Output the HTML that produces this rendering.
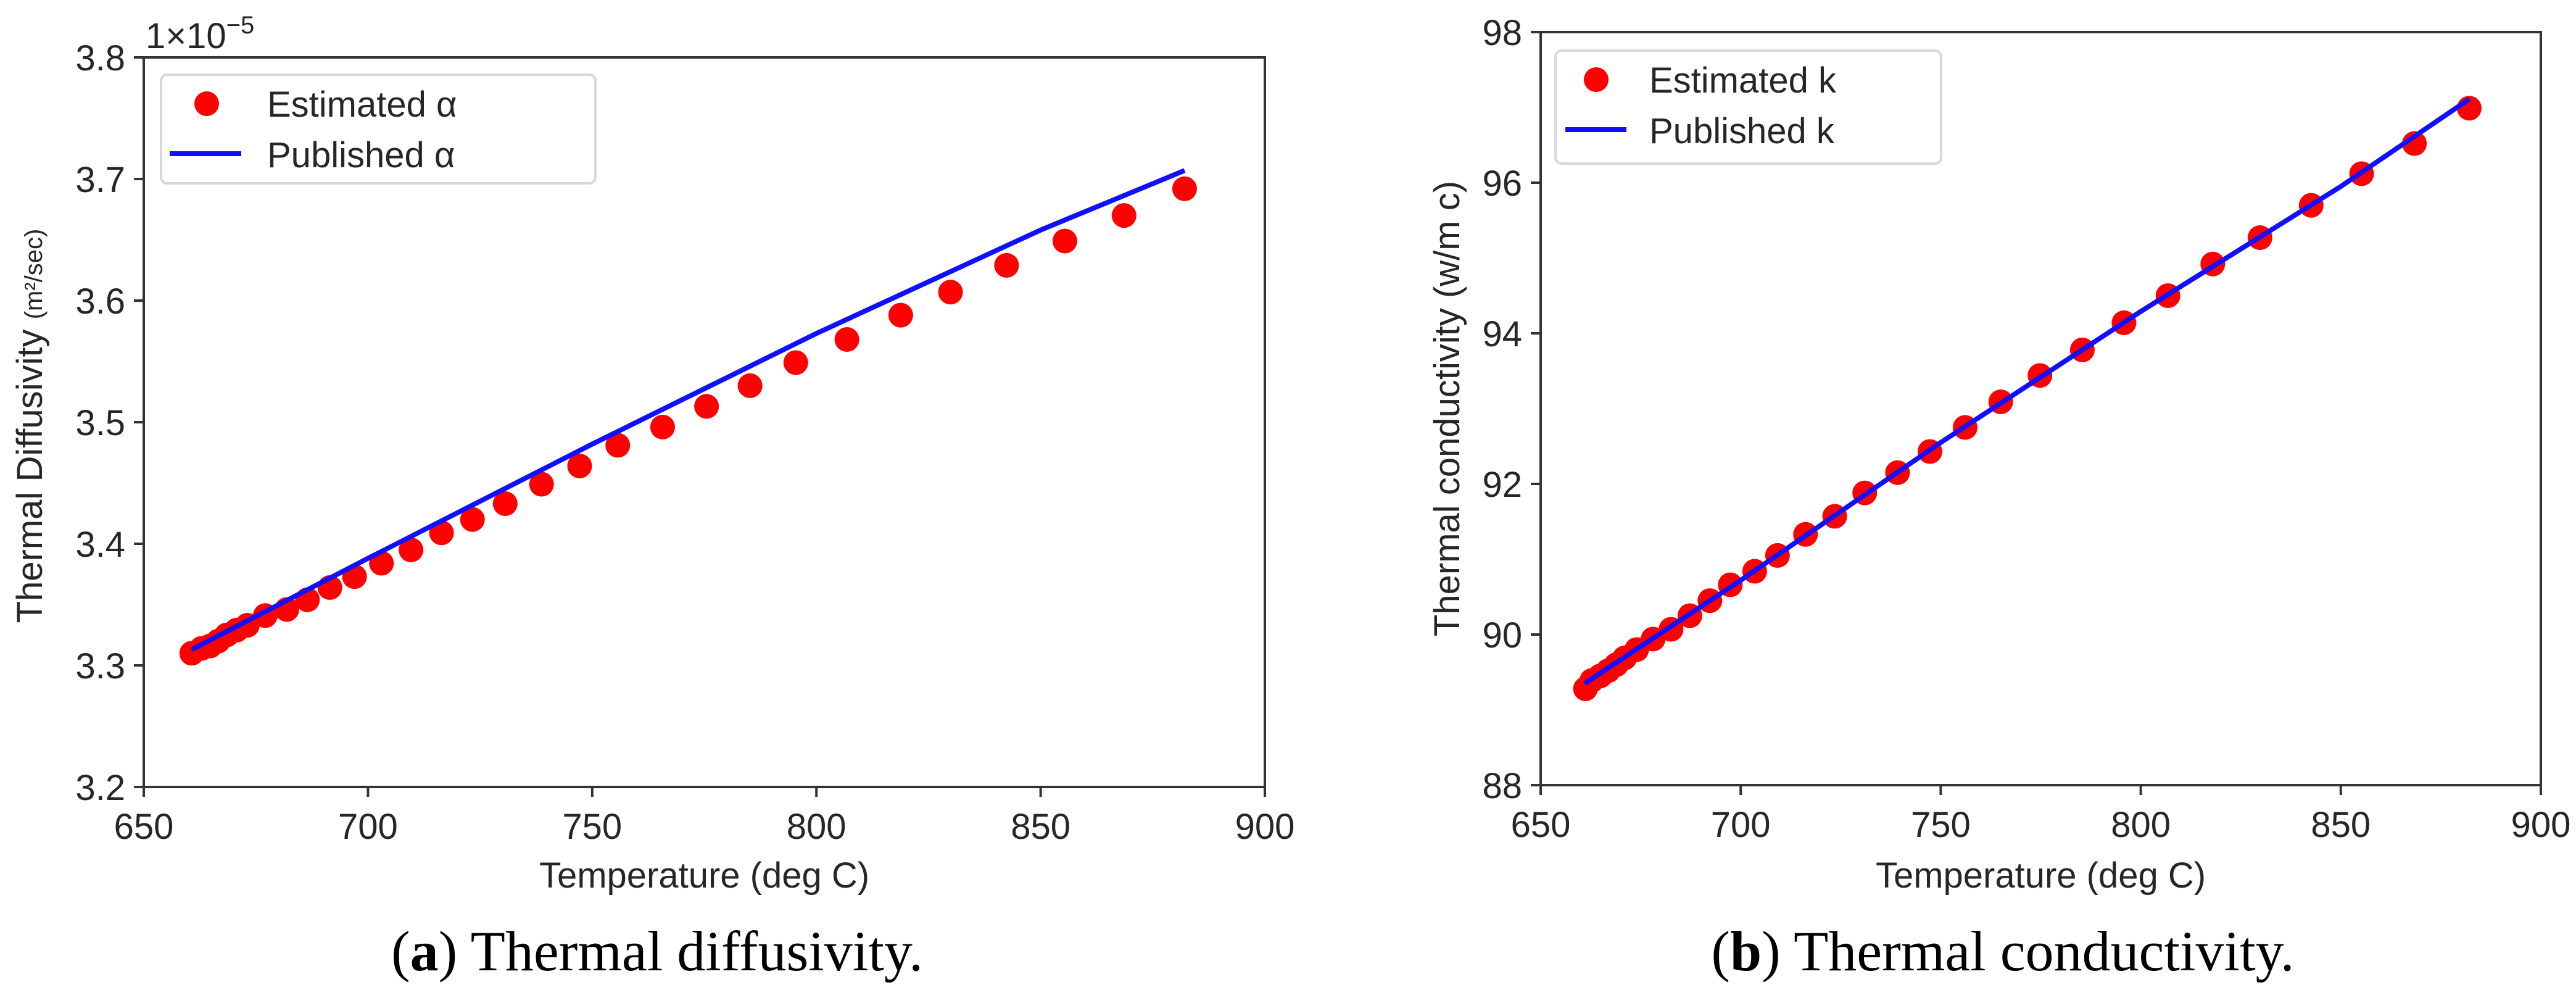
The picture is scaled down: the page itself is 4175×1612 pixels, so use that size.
<!DOCTYPE html>
<html><head><meta charset="utf-8"><style>
html,body{margin:0;padding:0;background:#fff;}
svg{display:block;}
text{font-family:"Liberation Sans",sans-serif;fill:#262626;}
.cap{font-family:"Liberation Serif",serif;fill:#000;}
</style></head><body>
<svg id="fig" width="4175" height="1612" viewBox="0 0 4175 1612" xmlns="http://www.w3.org/2000/svg"></svg>
<script>
// Chart (a) thermal diffusivity data (x1e-5)
const tempA = [660.7,662.9,664.8,666.6,668.5,670.7,673.1,677.1,681.9,686.5,691.5,697.0,703.0,709.6,716.4,723.3,730.6,738.7,747.2,755.7,765.7,775.5,785.2,795.4,806.8,818.8,829.9,842.4,855.4,868.6,882.1];
const estAlpha = [3.310,3.314,3.316,3.320,3.325,3.329,3.333,3.341,3.346,3.354,3.364,3.373,3.384,3.395,3.409,3.420,3.433,3.449,3.464,3.481,3.496,3.513,3.530,3.549,3.568,3.588,3.607,3.629,3.649,3.670,3.692];
const pubTempA = [660.7,700,750,800,850,882.1];
const pubAlpha = [3.313,3.388,3.482,3.573,3.658,3.707];
const yTicksA = [3.2,3.3,3.4,3.5,3.6,3.7,3.8];
const yTickLabelsA = ["3.2","3.3","3.4","3.5","3.6","3.7","3.8"];
// Chart (b) thermal conductivity data
const tempB = [661.2,662.8,664.9,666.9,668.9,671.0,674.0,678.1,682.6,687.3,692.3,697.4,703.5,709.2,716.2,723.5,731.0,739.2,747.3,756.1,765.0,774.8,785.4,795.8,806.8,818.0,829.8,842.6,855.2,868.4,882.1];
const estK = [89.28,89.39,89.45,89.52,89.60,89.69,89.80,89.94,90.07,90.25,90.45,90.66,90.84,91.05,91.33,91.57,91.88,92.15,92.43,92.75,93.09,93.44,93.78,94.14,94.50,94.92,95.27,95.70,96.12,96.52,96.99];
const pubTempB = [661,700,750,800,850,882.1];
const pubK = [89.35,90.72,92.55,94.29,95.95,97.11];
const yTicksB = [88,90,92,94,96,98];
const yTickLabelsB = ["88","90","92","94","96","98"];
const xTicks = [650,700,750,800,850,900];
const xTickLabels = ["650","700","750","800","850","900"];

const NS="http://www.w3.org/2000/svg";
const svg=document.getElementById('fig');
function mk(tag,attrs,parent){const e=document.createElementNS(NS,tag);for(const k in attrs)e.setAttribute(k,attrs[k]);(parent||svg).appendChild(e);return e;}

function drawChart(cfg){
  const g=mk('g',{});
  
  
  const sx=v=>cfg.x0+(v-650)/(900-650)*(cfg.x1-cfg.x0);
  const sy=v=>cfg.yb+(v-cfg.ymin)/(cfg.ymax-cfg.ymin)*(cfg.yt-cfg.yb);
  // frame
  const fr=mk('rect',{x:cfg.x0,y:cfg.yt,width:cfg.x1-cfg.x0,height:cfg.yb-cfg.yt,fill:'none',stroke:'#333',"stroke-width":4},g);
  
  
  // x ticks
  xTicks.forEach((t,i)=>{
    const x=sx(t);
    const l=mk('line',{x1:x,y1:cfg.yb,x2:x,y2:cfg.yb+16,stroke:'#333',"stroke-width":4},g);
    
    
    const tx=mk('text',{x:x,y:cfg.yb+84,"font-size":58,"text-anchor":"middle"},g);
    tx.textContent=xTickLabels[i];
    
    
  });
  cfg.yticks.forEach((t,i)=>{
    const y=sy(t);
    const l=mk('line',{x1:cfg.x0-16,y1:y,x2:cfg.x0,y2:y,stroke:'#333',"stroke-width":4},g);
    
    
    const tx=mk('text',{x:cfg.x0-30,y:y+21,"font-size":58,"text-anchor":"end"},g);
    tx.textContent=cfg.ylabels[i];
    
    
  });
  // series: published line
  const d=cfg.px.map((v,i)=>(i?'L':'M')+sx(v).toFixed(1)+' '+sy(cfg.py[i]).toFixed(1)).join(' ');
  // estimated points
  cfg.ex.forEach((v,i)=>{
    const c=mk('circle',{cx:sx(v),cy:sy(cfg.ey[i]),r:20,fill:'#ff0000'},g);
    
    
  });
  const p=mk('path',{d:d,fill:'none',stroke:'#1010ff',"stroke-width":8},g);
  
  
  // x title
  const xt=mk('text',{x:(cfg.x0+cfg.x1)/2,y:1438,"font-size":58,"text-anchor":"middle"},g);
  xt.textContent='Temperature (deg C)';
  
  
  // legend
  const L=cfg.leg;
  const lb=mk('rect',{x:L.x,y:L.y,width:L.w,height:L.h,rx:10,fill:'#fff',stroke:'#d8d8d8',"stroke-width":4},g);
  
  
  const lm=mk('circle',{cx:L.mx,cy:L.y+47,r:20,fill:'#ff0000'},g);
  
  
  const ll=mk('line',{x1:L.lx1,y1:L.y+128,x2:L.lx2,y2:L.y+128,stroke:'#1010ff',"stroke-width":8},g);
  
  
  const t1=mk('text',{x:L.tx,y:L.y+68,"font-size":58},g);
  t1.textContent=cfg.l1;
  
  
  const t2=mk('text',{x:L.tx,y:L.y+150,"font-size":58},g);
  t2.textContent=cfg.l2;
  
  
  return g;
}

drawChart({name:'diffusivity-chart',x0:233,x1:2050,yt:93,yb:1275,ymin:3.2,ymax:3.8,
  yticks:yTicksA,ylabels:yTickLabelsA,px:pubTempA,py:pubAlpha,ex:tempA,ey:estAlpha,
  leg:{x:261,y:121,w:704,h:176,mx:335,lx1:275,lx2:391,tx:433},l1:'Estimated α',l2:'Published α'});
drawChart({name:'conductivity-chart',x0:2497,x1:4118,yt:52,yb:1272,ymin:88,ymax:98,
  yticks:yTicksB,ylabels:yTickLabelsB,px:pubTempB,py:pubK,ex:tempB,ey:estK,
  leg:{x:2521,y:82,w:625,h:183,mx:2587,lx1:2537,lx2:2636,tx:2673},l1:'Estimated k',l2:'Published k'});
</script>
<svg width="0" height="0" style="position:absolute"></svg>
<script>
(function(){
const NS="http://www.w3.org/2000/svg";const svg=document.getElementById('fig');
function t(attrs,txt,name){const e=document.createElementNS(NS,'text');for(const k in attrs)e.setAttribute(k,attrs[k]);e.textContent=txt;


svg.appendChild(e);return e;}
const off=t({x:236,y:78,"font-size":58},'1×10','offset-text');
const sup=document.createElementNS(NS,'tspan');sup.setAttribute('dy','-24');sup.setAttribute('font-size','40');sup.textContent='−5';off.appendChild(sup);
const yl=t({transform:'translate(68,690) rotate(-90)',"font-size":58,"text-anchor":"middle"},'Thermal Diffusivity ','y-axis-title-a');
const s=document.createElementNS(NS,'tspan');s.setAttribute('font-size','40');s.textContent='(m²/sec)';yl.appendChild(s);
t({transform:'translate(2365,662) rotate(-90)',"font-size":58,"text-anchor":"middle"},'Thermal conductivity (w/m c)','y-axis-title-b');
const ca=t({x:1065,y:1572,"font-size":92,"text-anchor":"middle","class":"cap"},'','caption-a');
ca.innerHTML='(<tspan font-weight="bold">a</tspan>) Thermal diffusivity.';
const cb=t({x:3246,y:1572,"font-size":92,"text-anchor":"middle","class":"cap"},'','caption-b');
cb.innerHTML='(<tspan font-weight="bold">b</tspan>) Thermal conductivity.';
})();
</script>
</body></html>
